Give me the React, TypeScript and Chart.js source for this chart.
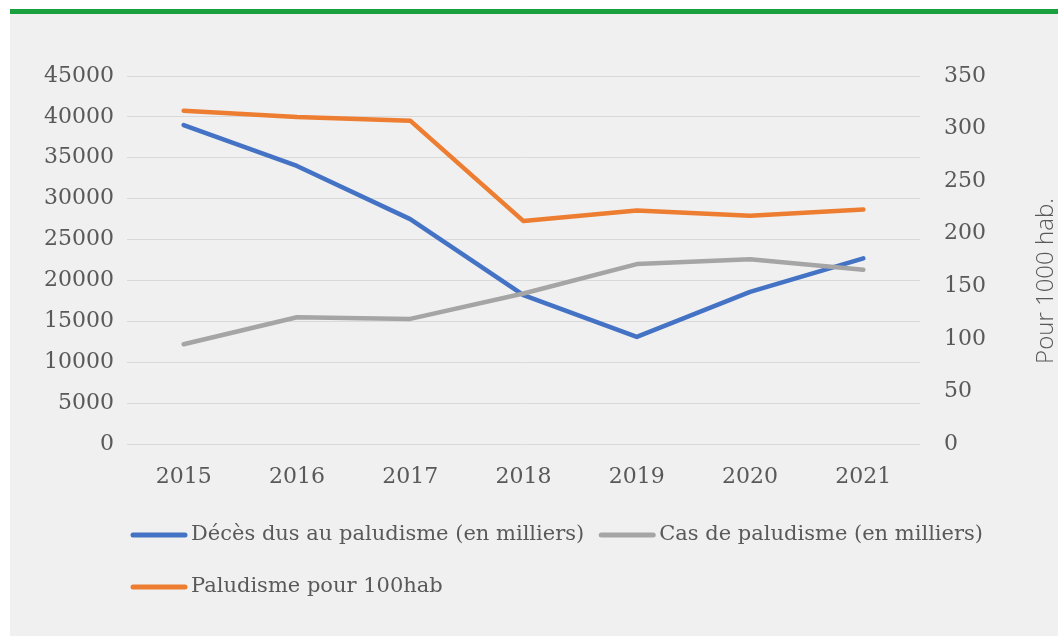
import React, { useEffect, useRef } from "react";
import { Chart, registerables } from "chart.js";

Chart.register(...registerables);

// ---- Data ----
const years = ["2015", "2016", "2017", "2018", "2019", "2020", "2021"];
const deaths = [39000, 34000, 27500, 18200, 13100, 18600, 22700];
const cases = [12200, 15500, 15300, 18400, 22000, 22600, 21300];
const per100 = [317, 311, 307.5, 212, 222, 217, 223];
const seriesLabels = [
  "Décès dus au paludisme (en milliers)",
  "Cas de paludisme (en milliers)",
  "Paludisme pour 100hab",
];
const leftMax = 45000;
const leftStep = 5000;
const rightMax = 350;
const rightStep = 50;
const rightAxisTitle = "Pour 1000 hab.";

const TEXT = "#595959";
const SERIF = "'DejaVu Serif', serif";

const overlayPlugin = {
  id: "overlay",
  afterDraw(chart: any) {
    const ctx = chart.ctx;
    ctx.save();
    // right axis title, reading bottom-to-top
    ctx.fillStyle = TEXT;
    ctx.font = "300 24px 'Open Sans', sans-serif";
    ctx.textAlign = "center";
    ctx.textBaseline = "middle";
    ctx.translate(1046, 281);
    ctx.rotate(-Math.PI / 2);
    ctx.fillText(rightAxisTitle, 0, 0);
    ctx.restore();

    // legend
    ctx.save();
    ctx.font = `21px ${SERIF}`;
    ctx.textBaseline = "middle";
    ctx.textAlign = "left";
    const rows = [[0, 1], [2]];
    const rowY = [535, 587];
    rows.forEach((row, ri) => {
      let x = 131;
      const y = rowY[ri];
      row.forEach((i) => {
        const ds = chart.data.datasets[i];
        ctx.strokeStyle = ds.borderColor;
        ctx.lineWidth = 5;
        ctx.lineCap = "round";
        ctx.beginPath();
        ctx.moveTo(x + 2, y);
        ctx.lineTo(x + 54, y);
        ctx.stroke();
        ctx.fillStyle = TEXT;
        ctx.fillText(ds.label, x + 60, y);
        x += 60 + ctx.measureText(ds.label).width + 15;
      });
    });
    ctx.restore();
  },
};

export default function App() {
  const ref = useRef<HTMLCanvasElement>(null);
  useEffect(() => {
    if (!ref.current) return;
    const tickFont = { family: SERIF, size: 22 };
    const plain = (v: any) => String(v);
    const chart = new Chart(ref.current, {
      type: "line",
      data: {
        labels: years,
        datasets: [
          {
            label: seriesLabels[0],
            data: deaths,
            borderColor: "#4472C4",
            yAxisID: "y",
            order: 3,
          },
          {
            label: seriesLabels[1],
            data: cases,
            borderColor: "#A5A5A5",
            yAxisID: "y",
            order: 2,
          },
          {
            label: seriesLabels[2],
            data: per100,
            borderColor: "#ED7D31",
            yAxisID: "y1",
            order: 1,
          },
        ],
      },
      options: {
        responsive: false,
        animation: false,
        devicePixelRatio: 1,
        elements: {
          line: {
            borderWidth: 4.5,
            borderCapStyle: "round",
            borderJoinStyle: "round",
            tension: 0,
          },
          point: { radius: 0, hoverRadius: 0 },
        },
        layout: { padding: { top: 76, bottom: 155, left: 0, right: 0 } },
        plugins: {
          legend: { display: false },
          tooltip: { enabled: false },
          title: { display: false },
        },
        scales: {
          x: {
            offset: true,
            grid: { display: false, drawTicks: false },
            border: { display: false },
            ticks: { font: tickFont, color: TEXT, padding: 20, maxRotation: 0 },
            afterFit: (s: any) => {
              s.height = 40;
            },
          },
          y: {
            position: "left",
            min: 0,
            max: leftMax,
            grid: { color: "#d9d9d9", lineWidth: 1, drawTicks: false },
            border: { display: false },
            ticks: { stepSize: leftStep, font: tickFont, color: TEXT, padding: 13, callback: plain },
            afterFit: (s: any) => {
              s.width = 127;
            },
          },
          y1: {
            position: "right",
            min: 0,
            max: rightMax,
            grid: { display: false, drawTicks: false },
            border: { display: false },
            ticks: { stepSize: rightStep, font: tickFont, color: TEXT, padding: 24, callback: plain },
            afterFit: (s: any) => {
              s.width = 138;
            },
          },
        },
      },
      plugins: [overlayPlugin],
    } as any);
    return () => chart.destroy();
  }, []);

  return (
    <div
      style={{
        position: "fixed",
        left: 0,
        top: 0,
        width: 1058,
        height: 639,
        background: "#ffffff",
        overflow: "hidden",
      }}
    >
      <div
        style={{
          position: "absolute",
          left: 10,
          top: 9,
          width: 1048,
          height: 627,
          background: "#f0f0f0",
        }}
      />
      <div
        style={{
          position: "absolute",
          left: 10,
          top: 9,
          width: 1048,
          height: 5,
          background: "#1ba040",
        }}
      />
      <canvas
        ref={ref}
        width={1058}
        height={639}
        style={{ position: "absolute", left: 0, top: 0, width: 1058, height: 639 }}
      />
    </div>
  );
}
